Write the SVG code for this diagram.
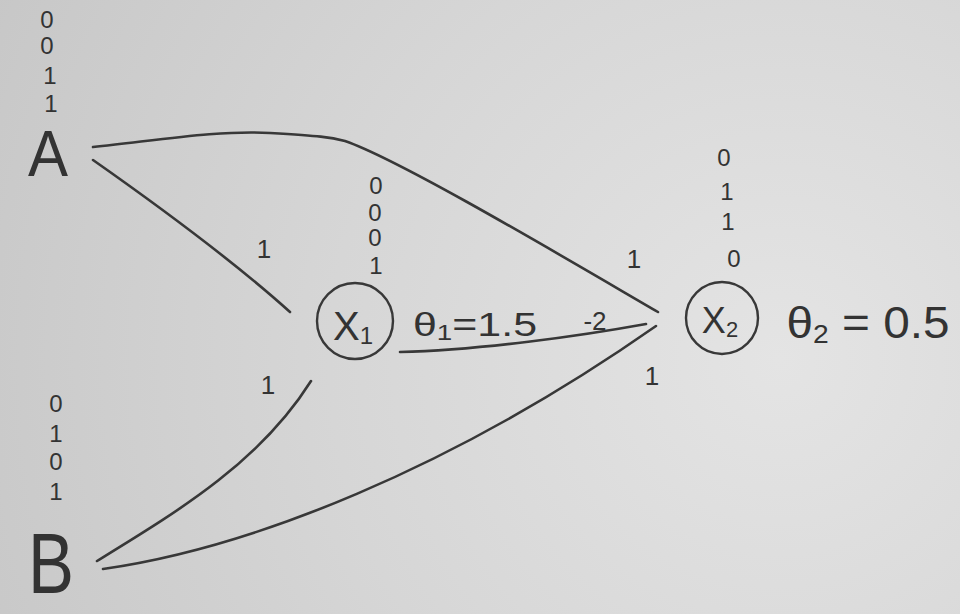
<svg xmlns="http://www.w3.org/2000/svg" width="960" height="614" viewBox="0 0 960 614">
<defs>
<radialGradient id="paper" cx="780" cy="360" r="900" gradientUnits="userSpaceOnUse">
<stop offset="0" stop-color="#e4e4e4"/>
<stop offset="0.5" stop-color="#d6d6d6"/>
<stop offset="1" stop-color="#c6c6c6"/>
</radialGradient>
<style>
.t{font-family:"Liberation Sans","DejaVu Sans",sans-serif;fill:#333;text-anchor:middle}
.d{font-size:24px}
.w{font-size:26px}
.e{fill:none;stroke:#383838;stroke-width:2.6;stroke-linecap:round;stroke-linejoin:round}
.n{fill:none;stroke:#383838;stroke-width:2.4}
</style>
</defs>
<rect width="960" height="614" fill="url(#paper)"/>

<g id="connectors">
<path class="e" d="M93,147 C160,140 220,130 270,133 S330,137 345,141 C400,160 560,255 658,312"/>
<path class="e" d="M93,160 C150,200 230,258 290,312"/>
<path class="e" d="M97,561 C180,510 260,462 311,381"/>
<path class="e" d="M103,569 C250,548 450,470 656,326"/>
<path class="e" d="M400,352 C480,350 580,336 646,324"/>
<text class="t w" x="264" y="258">1</text>
<text class="t w" x="268" y="394">1</text>
<text class="t w" x="634" y="268">1</text>
<text class="t w" x="595" y="330">-2</text>
<text class="t w" x="652" y="385">1</text>
</g>

<g id="nodeA">
<text class="t" x="48" y="176" font-size="64" textLength="40" lengthAdjust="spacingAndGlyphs">A</text>
<text class="t d" x="47" y="28">0</text>
<text class="t d" x="47" y="54">0</text>
<text class="t d" x="50" y="84">1</text>
<text class="t d" x="51" y="112">1</text>
</g>

<g id="nodeB">
<text class="t" x="51" y="593" font-size="86" textLength="46" lengthAdjust="spacingAndGlyphs">B</text>
<text class="t d" x="56" y="412">0</text>
<text class="t d" x="56" y="442">1</text>
<text class="t d" x="56" y="470">0</text>
<text class="t d" x="56" y="500">1</text>
</g>

<g id="nodeX1">
<circle class="n" cx="355" cy="321" r="38"/>
<text class="t" x="353" y="340" font-size="40">X<tspan font-size="24" dy="4">1</tspan></text>
<text class="t d" x="376" y="194">0</text>
<text class="t d" x="375" y="221">0</text>
<text class="t d" x="375" y="246">0</text>
<text class="t d" x="376" y="274">1</text>
<text class="t" x="475" y="336" font-size="34" textLength="124" lengthAdjust="spacingAndGlyphs">θ<tspan font-size="22" dy="4">1</tspan><tspan dy="-4">=1.5</tspan></text>
</g>

<g id="nodeX2">
<circle class="n" cx="722" cy="318" r="36"/>
<text class="t" x="720" y="333" font-size="36">X<tspan font-size="22" dy="4">2</tspan></text>
<text class="t d" x="724" y="166">0</text>
<text class="t d" x="727" y="200">1</text>
<text class="t d" x="728" y="230">1</text>
<text class="t d" x="734" y="267">0</text>
<text class="t" x="868" y="338" font-size="44" textLength="163" lengthAdjust="spacingAndGlyphs">θ<tspan font-size="26" dy="5">2</tspan><tspan dy="-5"> = 0.5</tspan></text>
</g>
</svg>
